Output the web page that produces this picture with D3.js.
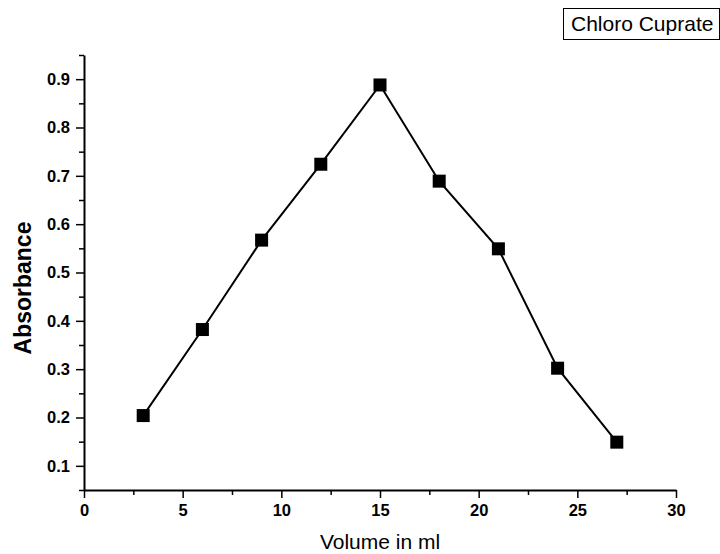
<!DOCTYPE html>
<html>
<head>
<meta charset="utf-8">
<script src="https://cdn.jsdelivr.net/npm/d3@7"></script>
<style>
  body { margin: 0; background: #fff; }
  svg { display: block; font-family: Arial, "Liberation Sans", sans-serif; }
</style>
</head>
<body>
<div id="chart"></div>
<script>
// data
const volumes = [3, 6, 9, 12, 15, 18, 21, 24, 27];
const absorbance = [0.204, 0.382, 0.567, 0.724, 0.888, 0.689, 0.549, 0.302, 0.149];
const seriesName = "Chloro Cuprate";
const xTicks = [0, 5, 10, 15, 20, 25, 30];
const yTicks = [0.1, 0.2, 0.3, 0.4, 0.5, 0.6, 0.7, 0.8, 0.9];

const width = 720;
const height = 554;
const margin = {left: 84, right: 44, top: 55, bottom: 64};

const svg = d3.select("#chart")
  .append("svg")
  .attr("width", width)
  .attr("height", height);

const xScale = d3.scaleLinear()
  .domain([0, 30])
  .range([margin.left, width - margin.right]);

const yScale = d3.scaleLinear()
  .domain([0.05, 0.95])
  .range([height - margin.bottom, margin.top]);

const data = volumes.map((v, i) => ({x: v, y: absorbance[i]}));

// minor ticks first, then major axis on top
svg.append("g")
  .attr("transform", `translate(0,${height - margin.bottom})`)
  .call(d3.axisBottom(xScale).tickValues(d3.range(2.5, 30, 5)).tickSize(5).tickFormat(""))
  .call(g => g.select(".domain").remove())
  .selectAll("line").attr("stroke-width", 1.5);

svg.append("g")
  .attr("transform", `translate(${margin.left},0)`)
  .call(d3.axisLeft(yScale).tickValues(d3.range(0.05, 0.96, 0.1)).tickSize(5).tickFormat(""))
  .call(g => g.select(".domain").remove())
  .selectAll("line").attr("stroke-width", 1.5);

const xAxis = svg.append("g")
  .attr("transform", `translate(0,${height - margin.bottom})`)
  .call(d3.axisBottom(xScale).tickValues(xTicks).tickSize(8).tickSizeOuter(0).tickPadding(6));
xAxis.select(".domain").attr("stroke-width", 2);
xAxis.selectAll("line").attr("stroke-width", 1.5);
xAxis.selectAll("text")
  .attr("font-size", "16.5px")
  .attr("font-weight", "bold")
  .attr("fill", "#000");

const yAxis = svg.append("g")
  .attr("transform", `translate(${margin.left},0)`)
  .call(d3.axisLeft(yScale).tickValues(yTicks).tickSize(8).tickSizeOuter(0).tickPadding(6)
          .tickFormat(d3.format(".1f")));
yAxis.select(".domain").attr("stroke-width", 2);
yAxis.selectAll("line").attr("stroke-width", 1.5);
yAxis.selectAll("text")
  .attr("font-size", "16.5px")
  .attr("font-weight", "bold")
  .attr("fill", "#000");

// axis titles
svg.append("text")
  .attr("x", (xScale(0) + xScale(30)) / 2)
  .attr("y", 549)
  .attr("text-anchor", "middle")
  .attr("font-size", "21px")
  .text("Volume in ml");

svg.append("text")
  .attr("transform", "translate(31,288) rotate(-90)")
  .attr("text-anchor", "middle")
  .attr("font-size", "23px")
  .attr("font-weight", "bold")
  .text("Absorbance");

// line
const line = d3.line()
  .x(d => xScale(d.x))
  .y(d => yScale(d.y));

svg.append("path")
  .datum(data)
  .attr("fill", "none")
  .attr("stroke", "#000")
  .attr("stroke-width", 2)
  .attr("d", line);

// square markers
const size = 13;
svg.selectAll(".pt")
  .data(data)
  .enter()
  .append("rect")
    .attr("class", "pt")
    .attr("x", d => xScale(d.x) - size / 2)
    .attr("y", d => yScale(d.y) - size / 2)
    .attr("width", size)
    .attr("height", size)
    .attr("fill", "#000");

// legend
const legend = svg.append("g");
legend.append("rect")
  .attr("x", 563.5)
  .attr("y", 8.5)
  .attr("width", 156)
  .attr("height", 31)
  .attr("fill", "#fff")
  .attr("stroke", "#000")
  .attr("stroke-width", 1);
legend.append("text")
  .attr("x", 571)
  .attr("y", 31)
  .attr("font-size", "21px")
  .text(seriesName);
</script>
</body>
</html>
